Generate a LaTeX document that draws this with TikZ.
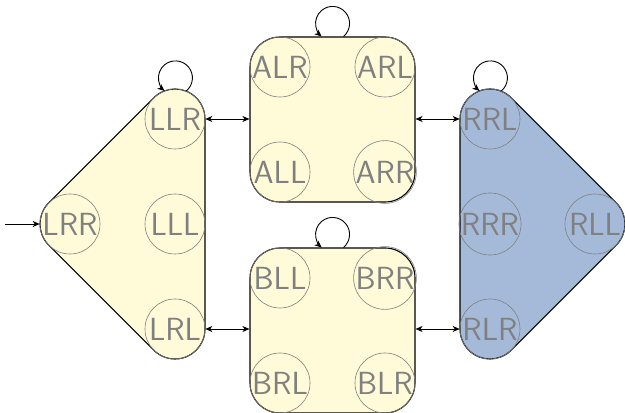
\documentclass[tikz,border=0pt]{standalone}
\usetikzlibrary{arrows.meta}
\definecolor{paleyellow}{RGB}{255,250,215}
\definecolor{paleblue}{RGB}{165,186,217}
\definecolor{stategray}{RGB}{128,128,128}
\begin{document}
\begin{tikzpicture}[x=1pt,y=1pt,
  state/.style={circle,draw=stategray,line width=0.6pt,minimum size=60pt,inner sep=0pt,
    text=stategray,font=\sffamily\fontsize{32}{38}\selectfont},
  region/.style={draw=black,line width=1.1pt},
  sqregion/.style={region,fill=paleyellow,rounded corners=30pt,minimum width=165pt,minimum height=165pt,inner sep=0pt},
  conn/.style={line width=0.9pt,-{Stealth[length=7pt,width=6pt,inset=2pt]}},
  dconn/.style={line width=0.9pt,{Stealth[length=7pt,width=6pt,inset=2pt]}-{Stealth[length=7pt,width=6pt,inset=2pt]}}
]
\useasboundingbox (0,0) rectangle (625,413);
% left triangle region
\path[region,fill=paleyellow] (48.79,210.21) -- (153.79,315.21)
  arc[start angle=135,end angle=0,radius=30pt] -- (205,84)
  arc[start angle=0,end angle=-135,radius=30pt] -- (48.79,167.79)
  arc[start angle=-135,end angle=-225,radius=30pt] -- cycle;
% right triangle region
\path[region,fill=paleblue] (460,84) -- (460,294)
  arc[start angle=180,end angle=45,radius=30pt] -- (616.21,210.21)
  arc[start angle=45,end angle=-45,radius=30pt] -- (511.21,62.79)
  arc[start angle=-45,end angle=-180,radius=30pt] -- cycle;
% square regions
\node[sqregion] (A) at (332.5,293.5) {};
\node[sqregion] (B) at (332.5,82.5) {};
% states
\node[state] (LLR) at (175,294) {LLR};
\node[state] (LLL) at (175,189) {LLL};
\node[state] (LRL) at (175,84) {LRL};
\node[state] (LRR) at (70,189) {LRR};
\node[state] (ALR) at (280,346) {ALR};
\node[state] (ARL) at (385,346) {ARL};
\node[state] (ALL) at (280,241) {ALL};
\node[state] (ARR) at (385,241) {ARR};
\node[state] (BLL) at (280,135) {BLL};
\node[state] (BRR) at (385,135) {BRR};
\node[state] (BRL) at (280,30) {BRL};
\node[state] (BLR) at (385,30) {BLR};
\node[state] (RRL) at (490,294) {RRL};
\node[state] (RRR) at (490,189) {RRR};
\node[state] (RLR) at (490,84) {RLR};
\node[state] (RLL) at (595,189) {RLL};
% connectors
\coordinate (start) at (5,189);
\draw[conn] (start) -- (LRR.west);
\draw[dconn] (LLR.east) -- (LLR.east -| A.west);
\draw[dconn] (LRL.east) -- (LRL.east -| B.west);
\draw[dconn] (A.east |- RRL.west) -- (RRL.west);
\draw[dconn] (B.east |- RLR.west) -- (RLR.west);
% self loops
\draw[conn] (LLR.68.6) arc[start angle=-50,end angle=230,radius=17pt];
\draw[conn] (RRL.68.6) arc[start angle=-50,end angle=230,radius=17pt];
\draw[conn] ([xshift=11pt]A.north) arc[start angle=-50,end angle=230,radius=17pt];
\draw[conn] ([xshift=11pt]B.north) arc[start angle=-50,end angle=230,radius=17pt];
\end{tikzpicture}
\end{document}
